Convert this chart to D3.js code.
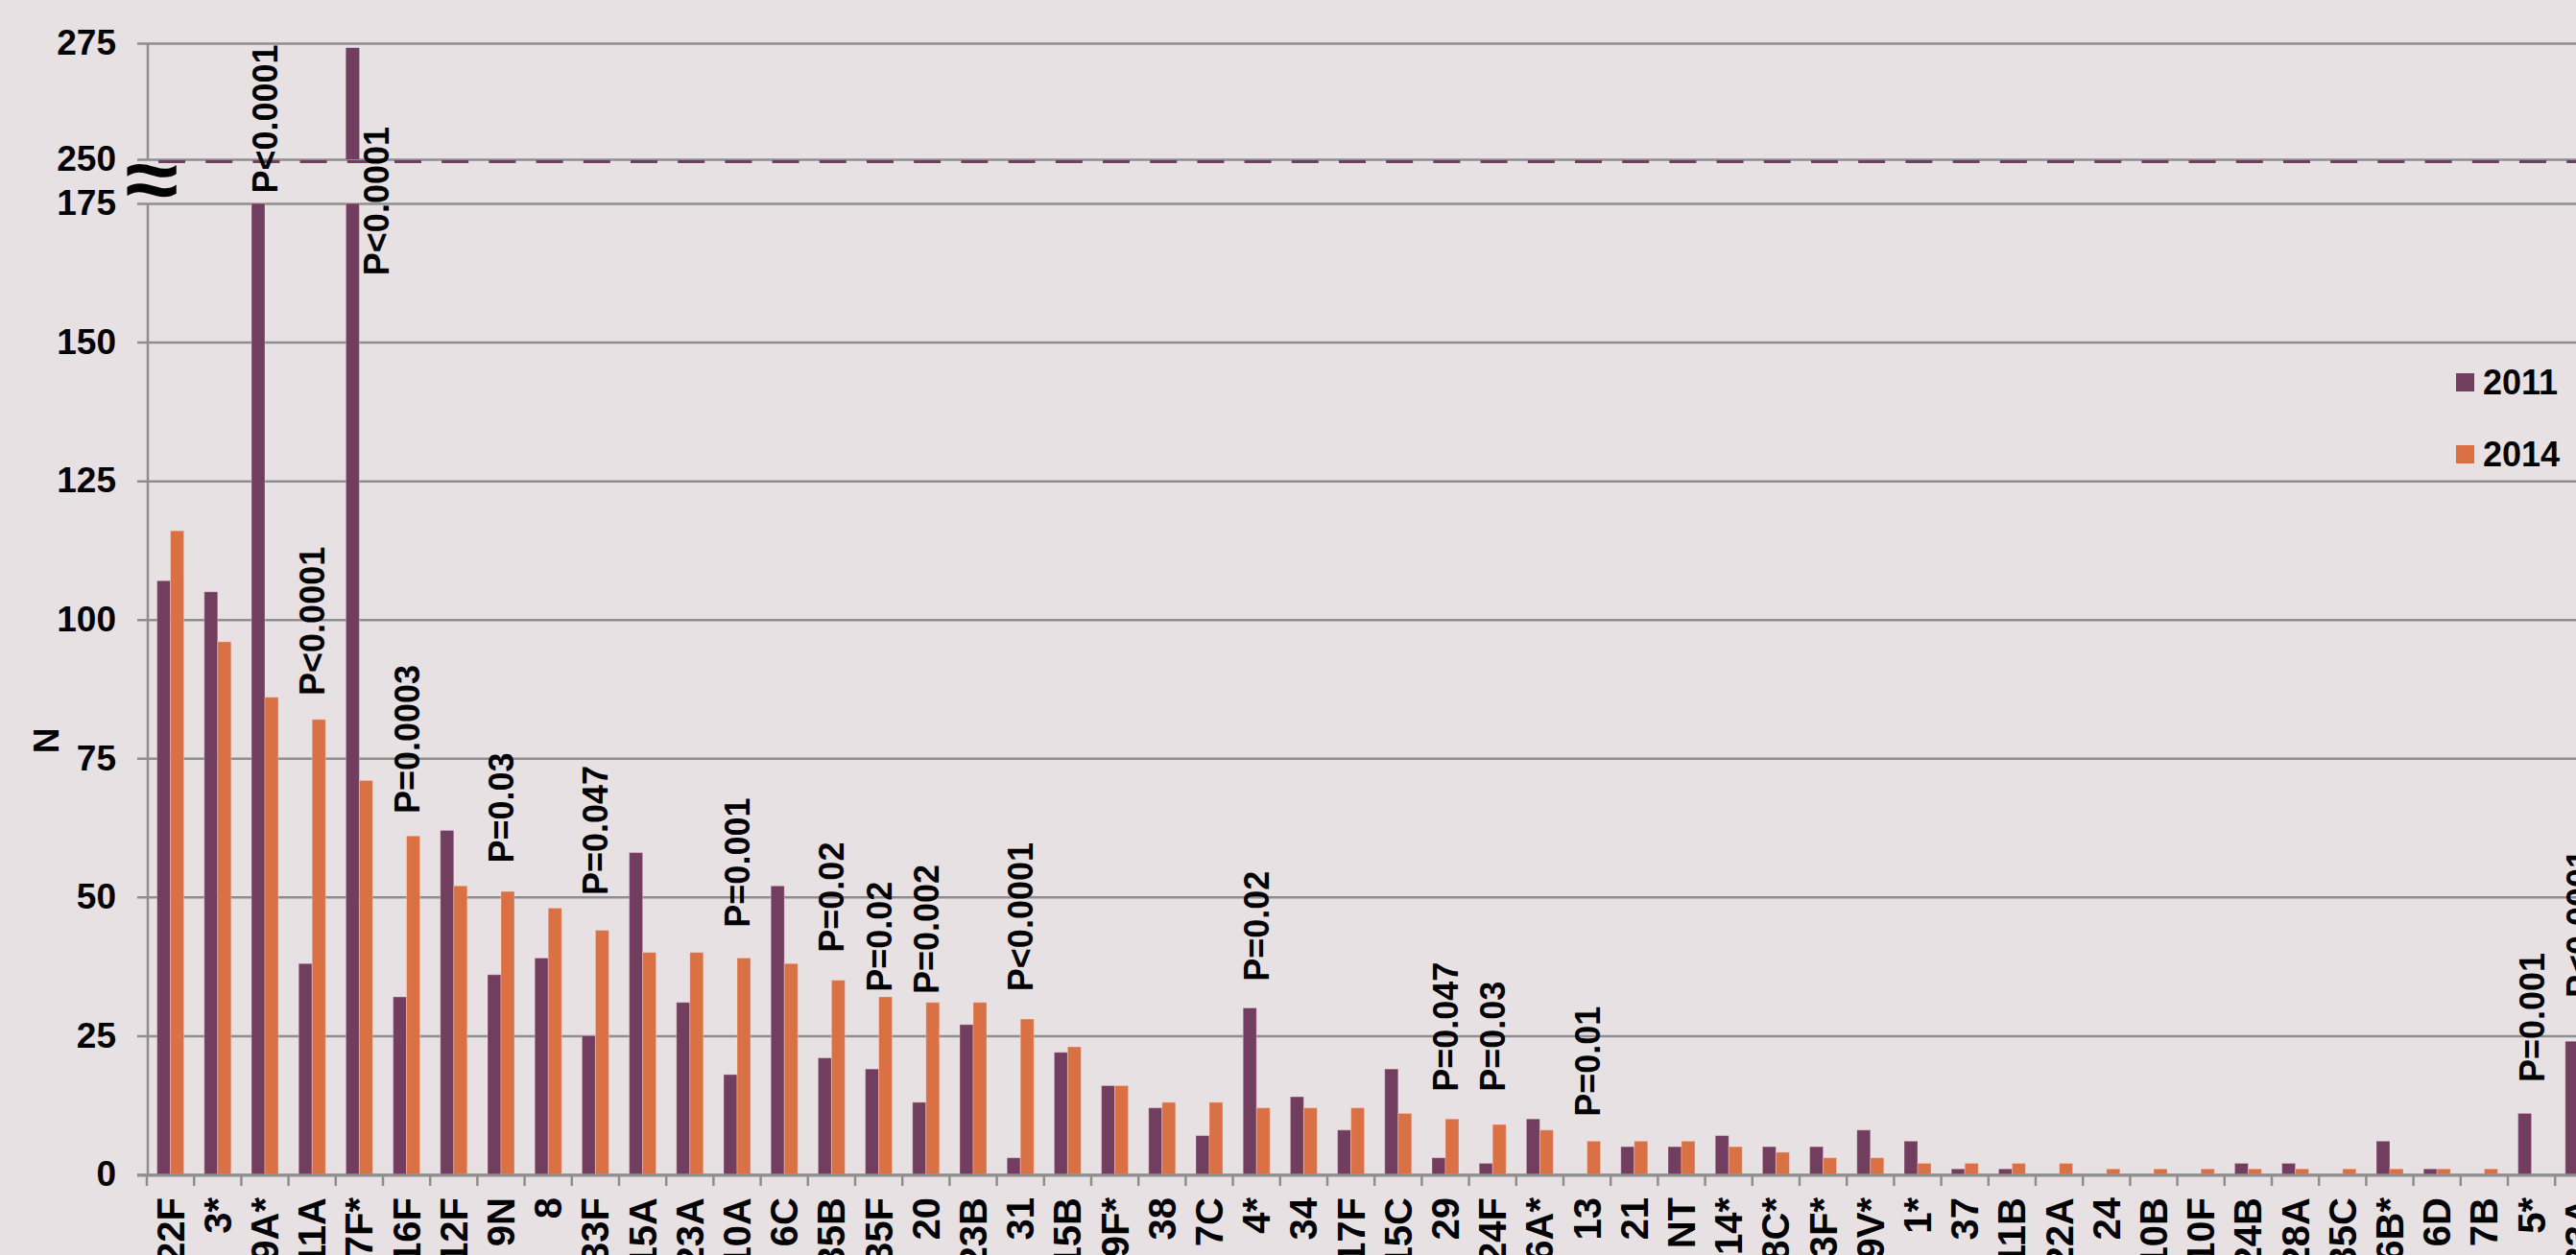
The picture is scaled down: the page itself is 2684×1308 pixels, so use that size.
<!DOCTYPE html>
<html>
<head>
<meta charset="utf-8">
<script src="https://cdn.jsdelivr.net/npm/d3@7"></script>
<style>
  body { margin: 0; background: #e7e1e4; }
  svg { display: block; }
  text { font-family: "Liberation Sans", Arial, sans-serif; font-weight: bold; fill: #000; }
</style>
</head>
<body>
<div id="chart"></div>
<script>
// serotypes, in the order of the chart
const categories = ["22F", "3*", "19A*", "11A", "7F*", "16F", "12F", "9N", "8", "33F",
  "15A", "23A", "10A", "6C", "35B", "35F", "20", "23B", "31", "15B",
  "19F*", "38", "7C", "4*", "34", "17F", "15C", "29", "24F", "6A*",
  "13", "21", "NT", "14*", "18C*", "23F*", "9V*", "1*", "37", "11B",
  "22A", "24", "10B", "10F", "24B", "28A", "35C", "6B*", "6D", "7B",
  "5*", "33A"];
const series = ["2011", "2014"];
const values2011 = [107, 105, 200, 38, 274, 32, 62, 36, 39, 25,
  58, 31, 18, 52, 21, 19, 13, 27, 3, 22,
  16, 12, 7, 30, 14, 8, 19, 3, 2, 10,
  0, 5, 5, 7, 5, 5, 8, 6, 1, 1,
  0, 0, 0, 0, 2, 2, 0, 6, 1, 0,
  11, 24];
const values2014 = [116, 96, 86, 82, 71, 61, 52, 51, 48, 44,
  40, 40, 39, 38, 35, 32, 31, 31, 28, 23,
  16, 13, 13, 12, 12, 12, 11, 10, 9, 8,
  6, 6, 6, 5, 4, 3, 3, 2, 2, 2,
  2, 1, 1, 1, 1, 1, 1, 1, 1, 1,
  0, 0];
const lowerTicks = [0, 25, 50, 75, 100, 125, 150, 175];
const upperTicks = [250, 275];
// p-value notes: serotype, text, N level where the text starts
const pSerotypes = ["19A*", "7F*", "11A", "16F", "9N", "33F", "10A", "35B", "35F", "20",
  "31", "4*", "29", "24F", "13", "5*", "33A"];
const pTexts = ["P<0.0001", "P<0.0001", "P<0.0001", "P=0.0003", "P=0.03", "P=0.047", "P=0.001", "P=0.02", "P=0.02", "P=0.002",
  "P<0.0001", "P=0.02", "P=0.047", "P=0.03", "P=0.01", "P=0.001", "P<0.0001"];
const pLevels = [176.8, 162, 86.3, 65, 56.1, 50.3, 44.5, 40, 32.9, 32.5,
  33, 34.8, 14.9, 14.9, 10.4, 16.6, 31.8];

const W = 2684, H = 1308;
const colors = { "2011": "#723e5f", "2014": "#da7144" };
const gridColor = "#8e8e8e";

const svg = d3.select("#chart").append("svg")
  .attr("width", W).attr("height", H);
svg.append("rect").attr("width", W).attr("height", H).attr("fill", "#e7e1e4");

const axisX = 154, gridLeft = 143, baseY = 1224;
const x0 = d3.scaleBand().domain(categories).range([153, 153 + categories.length * 49.2]);
const bw = x0.bandwidth();
const x1 = d3.scaleBand().domain(series).range([bw / 2 - 14, bw / 2 + 14]);
const yLow = d3.scaleLinear().domain([0, 175]).range([baseY, 212]);
const yUp = d3.scaleLinear().domain([250, 275]).range([166, 45]);

// gridlines + tick labels
function yAxis(scale, ticks) {
  const g = svg.append("g")
    .attr("transform", `translate(${gridLeft},0)`)
    .call(d3.axisLeft(scale).tickValues(ticks)
      .tickSizeInner(-(W - gridLeft)).tickSizeOuter(0).tickPadding(22));
  g.select(".domain").remove();
  g.selectAll(".tick line").attr("stroke", gridColor).attr("stroke-width", 2.5);
  g.selectAll(".tick text").style("font-size", "37px").attr("fill", "#000");
  return g;
}
yAxis(yLow, lowerTicks);
yAxis(yUp, upperTicks);

// dashed break line at 250
svg.append("line")
  .attr("x1", 165).attr("x2", W)
  .attr("y1", yUp(250) + 2.5).attr("y2", yUp(250) + 2.5)
  .attr("stroke", colors["2011"]).attr("stroke-width", 3)
  .attr("stroke-dasharray", "28 21.2");

// bars
const rows = categories.map((c, i) => ({ cat: c, vals: [values2011[i], values2014[i]] }));
const groups = svg.append("g").selectAll("g").data(rows).join("g")
  .attr("transform", d => `translate(${x0(d.cat)},0)`);

groups.selectAll("rect.low")
  .data(d => series.map((s, k) => ({ s, v: d.vals[k] })))
  .join("rect")
  .attr("class", "low")
  .attr("x", d => x1(d.s))
  .attr("width", x1.bandwidth())
  .attr("y", d => yLow(Math.min(d.v, 175)))
  .attr("height", d => baseY - yLow(Math.min(d.v, 175)))
  .attr("fill", d => colors[d.s])
  .attr("stroke", "rgba(255,225,225,0.35)").attr("stroke-width", 1);

groups.selectAll("rect.up")
  .data(d => series.map((s, k) => ({ s, v: d.vals[k] })).filter(e => e.v > 250))
  .join("rect")
  .attr("class", "up")
  .attr("x", d => x1(d.s))
  .attr("width", x1.bandwidth())
  .attr("y", d => yUp(Math.min(d.v, 275)))
  .attr("height", d => yUp(250) - yUp(Math.min(d.v, 275)))
  .attr("fill", d => colors[d.s]);

// vertical axis, broken between 175 and 250
svg.append("line").attr("x1", axisX).attr("x2", axisX)
  .attr("y1", yUp(275)).attr("y2", yUp(250))
  .attr("stroke", gridColor).attr("stroke-width", 2.5);
svg.append("line").attr("x1", axisX).attr("x2", axisX)
  .attr("y1", yLow(175)).attr("y2", baseY + 1)
  .attr("stroke", gridColor).attr("stroke-width", 2.5);

// x axis
const xg = svg.append("g").attr("transform", `translate(0,${baseY + 1})`)
  .call(d3.axisBottom(x0).tickSize(0));
xg.select(".domain").remove();
xg.selectAll(".tick text")
  .attr("y", 0).attr("dy", "0.35em").attr("x", 0)
  .attr("transform", "translate(0,23) rotate(-90)")
  .attr("text-anchor", "end")
  .style("font-size", "40px").attr("fill", "#000");
svg.append("line").attr("x1", gridLeft).attr("x2", W)
  .attr("y1", baseY + 1).attr("y2", baseY + 1)
  .attr("stroke", gridColor).attr("stroke-width", 3);
svg.append("g").selectAll("line")
  .data(d3.range(categories.length + 1))
  .join("line")
  .attr("x1", i => x0.range()[0] + i * x0.step())
  .attr("x2", i => x0.range()[0] + i * x0.step())
  .attr("y1", baseY + 1).attr("y2", baseY + 12)
  .attr("stroke", gridColor).attr("stroke-width", 2.5);

// break symbol
svg.append("text")
  .attr("transform", "translate(158,217) scale(1.15,1)")
  .attr("text-anchor", "middle")
  .style("font-size", "88px")
  .text("≈");

// p-value notes
svg.append("g").selectAll("text")
  .data(pSerotypes.map((s, i) => ({ s, t: pTexts[i], lv: pLevels[i] })))
  .join("text")
  .attr("transform", d => {
    const cx = x0(d.s) + bw / 2 + (d.s === "7F*" ? 18 : 0);
    return `translate(${cx},${yLow(d.lv)}) rotate(-90)`;
  })
  .attr("dy", "0.36em")
  .style("font-size", "36px")
  .text(d => d.t);

// y title
svg.append("text")
  .attr("transform", `translate(48,772) rotate(-90)`)
  .attr("text-anchor", "middle").attr("dy", "0.36em")
  .style("font-size", "37px")
  .text("N");

// legend
const lg = svg.append("g").selectAll("g").data(series).join("g")
  .attr("transform", (d, i) => `translate(2559,${389 + i * 75})`);
lg.append("rect").attr("width", 19).attr("height", 19).attr("fill", d => colors[d]);
lg.append("text").attr("x", 28).attr("y", 9.5).attr("dy", "0.36em")
  .style("font-size", "36px").text(d => d);
</script>
</body>
</html>
